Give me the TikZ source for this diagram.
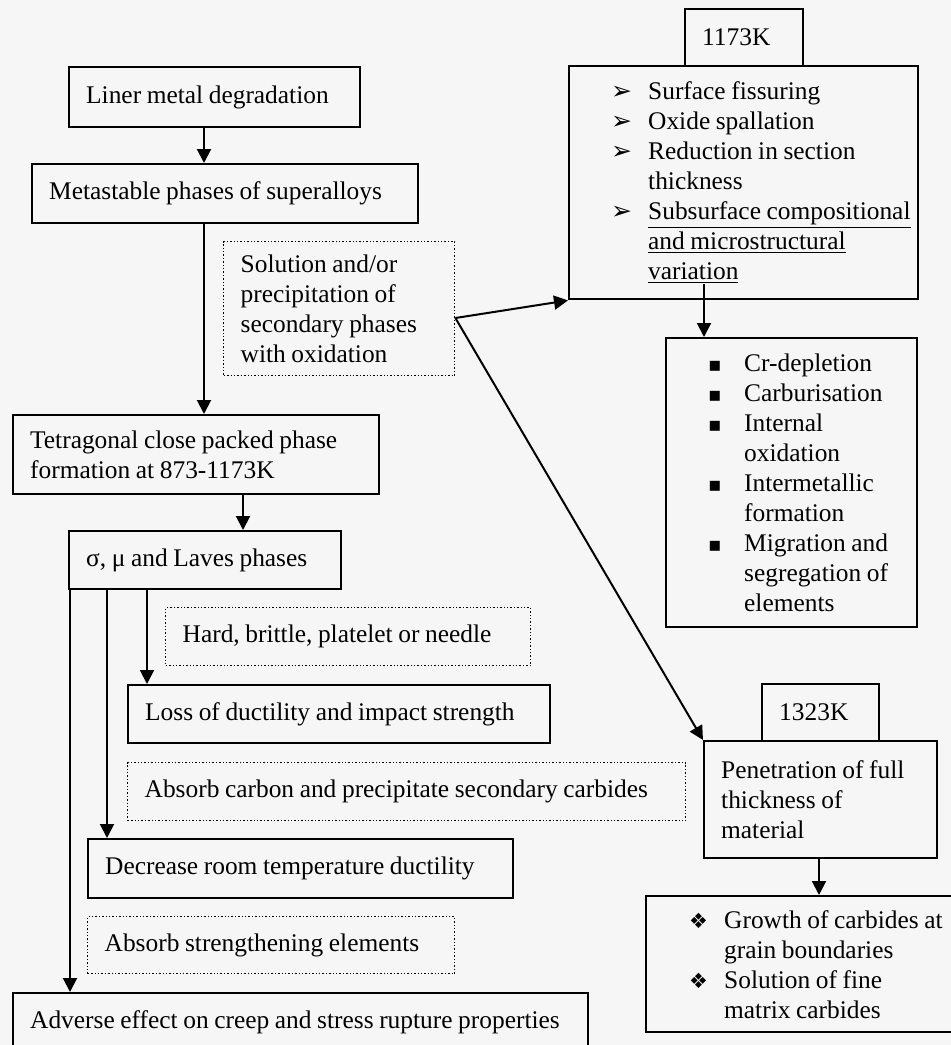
\documentclass[tikz,border=0pt]{standalone}
\usepackage{fontspec}
\setmainfont{Liberation Serif}
\newfontfamily\symfont{DejaVu Sans}
\usetikzlibrary{arrows.meta,calc}
\definecolor{paper}{RGB}{246,246,246}

\newcommand{\arrb}{\makebox[18.5pt][l]{\symfont\fontsize{12.5}{15}\selectfont ➢}}
\newcommand{\sqb}{\makebox[18pt][l]{\symfont\fontsize{10}{15}\selectfont ▪}}
\newcommand{\dmb}{\makebox[17.5pt][l]{\symfont\fontsize{10.5}{15}\selectfont ❖}}

\tikzset{
  pbox/.style={draw, line width=1.2pt, anchor=north west, inner xsep=0pt, inner ysep=0pt,
    align=left, font=\fontsize{12.7}{15}\selectfont,
    execute at begin node={\leftskip=#1\spaceskip=2.8pt plus 1pt minus 0.3pt}},
  pbox/.default=8.5pt,
  dbox/.style={pbox, line width=0.7pt, densely dotted},
  link/.style={line width=1pt, -{Triangle[width=7pt,length=7pt]}},
}

\begin{document}
\begin{tikzpicture}[x=0.5pt, y=-0.5pt]
    \fill[paper] (0,0) rectangle (951,1045);
    \useasboundingbox (0,0) rectangle (951,1045);

    \node [pbox, text width=145.5pt, minimum height=30pt] (liner) at (68,66) {Liner metal degradation};
    \node [pbox, text width=193pt, minimum height=29.5pt] (meta) at (31,163) {Metastable phases of superalloys};
    \node [dbox, text width=115.5pt, minimum height=67pt] (soln) at (223,241) {Solution and/or\\precipitation of\\secondary phases\\with oxidation};
    \node [pbox, text width=183pt, minimum height=39.5pt] (tcp) at (12,414) {Tetragonal close packed phase\\formation at 873-1173K};
    \node [pbox, text width=136pt, minimum height=29pt] (laves) at (68,530) {σ, μ and Laves phases};
    \node [dbox, text width=182.5pt, minimum height=29pt] (hard) at (165,607) {Hard, brittle, platelet or needle};
    \node [pbox, text width=211pt, minimum height=29pt] (loss) at (127,684) {Loss of ductility and impact strength};
    \node [dbox, text width=279pt, minimum height=29pt] (carb) at (127,762) {Absorb carbon and precipitate secondary carbides};
    \node [pbox, text width=212.5pt, minimum height=29.5pt] (decr) at (87,838) {Decrease room temperature ductility};
    \node [dbox, text width=183.5pt, minimum height=28.5pt] (strg) at (87,916) {Absorb strengthening elements};
    \node [pbox, text width=287.5pt, minimum height=29pt] (adv) at (12,992) {Adverse effect on creep and stress rupture properties};

    \node [pbox, text width=59pt, minimum height=28.5pt] (tlow) at (684,8) {1173K};
    \node [pbox=21pt, text width=174.5pt, minimum height=116.5pt] (fiss) at (568,65)
      {\arrb Surface fissuring\\ \arrb Oxide spallation\\ \arrb Reduction in section\\ \hspace*{18.5pt}thickness\\
       \arrb \underline{Subsurface compositional}\\ \hspace*{18.5pt}\underline{and microstructural}\\ \hspace*{18.5pt}\underline{variation}};
    \node [pbox=21pt, text width=125.5pt, minimum height=144.5pt] (depl) at (665,337)
      {\sqb Cr-depletion\\ \sqb Carburisation\\ \sqb Internal\\ \hspace*{18pt}oxidation\\ \sqb Intermetallic\\
       \hspace*{18pt}formation\\ \sqb Migration and\\ \hspace*{18pt}segregation of\\ \hspace*{18pt}elements};

    \node [pbox, text width=58.5pt, minimum height=28.5pt] (thigh) at (761,683) {1323K};
    \node [pbox, text width=116.5pt, minimum height=58.5pt] (pen) at (703,740) {Penetration of full\\thickness of\\material};
    \node [pbox=21.5pt, text width=160pt, minimum height=68pt] (grow) at (645,895)
      {\dmb Growth of carbides at\\ \hspace*{17.5pt}grain boundaries\\ \dmb Solution of fine\\ \hspace*{17.5pt}matrix carbides};

    \draw [link] (204,0 |- liner.south) -- (204,0 |- meta.north);
    \draw [link] (204,0 |- meta.south) -- (204,0 |- tcp.north);
    \draw [link] (243,0 |- tcp.south) -- (243,0 |- laves.north);
    \draw [link] (147,0 |- laves.south) -- (147,0 |- loss.north);
    \draw [link] (107,0 |- laves.south) -- (107,0 |- decr.north);
    \draw [link] (70,0 |- laves.south) -- (70,0 |- adv.north);

    \coordinate (split) at (soln.east |- 0,318);
    \draw [link] (split) -- (fiss.south west);
    \draw [link] (split) -- (pen.north west);
    \draw [link] ($(704,0 |- fiss.south)+(0,-16)$) -- (704,0 |- depl.north);
    \draw [link] (819,0 |- pen.south) -- (819,0 |- grow.north);
\end{tikzpicture}
\end{document}
